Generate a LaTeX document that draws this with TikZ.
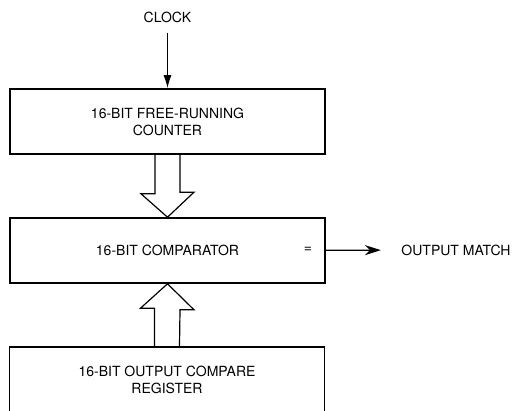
\documentclass[tikz,border=0pt]{standalone}
\usepackage{fontspec}
\setmainfont{TeX Gyre Heros}
\usetikzlibrary{arrows.meta}

\tikzset{
  blockbox/.style={draw, line width=1.6pt, minimum width=315pt, minimum height=65pt,
    align=center, inner sep=0pt},
  busline/.style={line width=1.2pt, line join=miter},
}

\begin{document}
\begin{tikzpicture}[x=1pt, y=-1pt, font=\fontsize{14}{17}\selectfont]
\useasboundingbox (0,0) rectangle (514,410);
\clip (0,0) rectangle (514,410);

% blocks
\node[blockbox] (cnt) at (167.5,121.5) {16-BIT FREE-RUNNING\\COUNTER};
\node[blockbox] (cmp) at (167.5,250.5) {16-BIT COMPARATOR};
\node[blockbox, minimum height=66pt] (reg) at (167,380) {16-BIT OUTPUT COMPARE\\REGISTER};

% labels
\node (clk) at (167.5,17) {CLOCK};
\node (eq) at (308,250) {=};
\node (out) at (456,250) {OUTPUT MATCH};

% clock input
\draw[line width=1.2pt, shorten <=7pt, -{Latex[length=13pt,width=8pt]}] (clk) -- (cnt);

% bus arrows
\draw[busline] ([xshift=-12.5pt]cnt.south) -- ++(0,39) -- ++(-14,0) -- (cmp.north)
  -- ++(26.5,-25) -- ++(-14,0) -- ([xshift=12.5pt]cnt.south);
\draw[busline] ([xshift=-12.5pt]reg.north) -- ++(0,-38) -- ++(-14,0) -- (cmp.south)
  -- ++(26.5,26) -- ++(-14,0) -- ([xshift=12.5pt]reg.north);

% match output
\draw[line width=1.2pt, shorten >=17pt, -{Stealth[length=16pt,width=10pt]}] (cmp) -- (out);
\end{tikzpicture}
\end{document}
